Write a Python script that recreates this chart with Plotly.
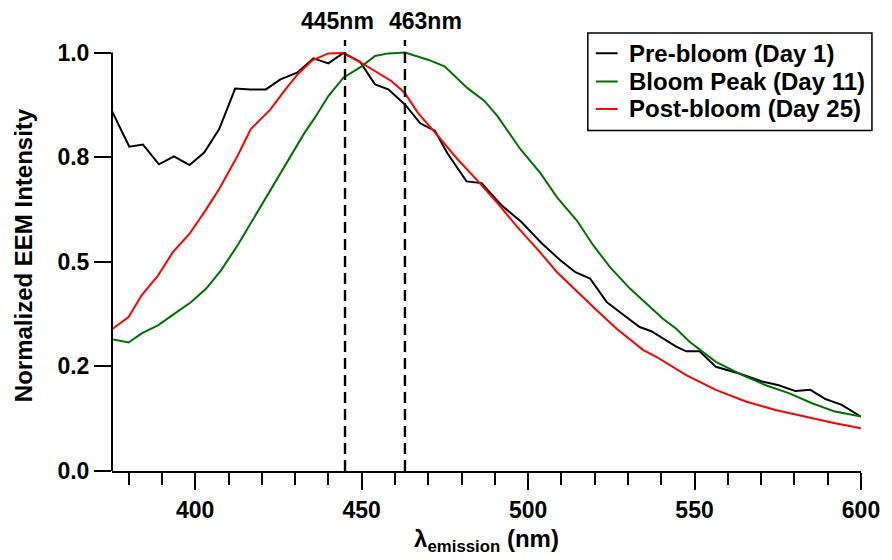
import plotly.graph_objects as go

# ---- data ----
pre_x = [375, 380.2, 384.3, 389.1, 393.6, 398.3, 402.7, 407.2, 412, 416.5, 421.2, 425.6, 430.6, 435.5,
         440, 444.5, 449.5, 454, 458, 463, 467.6, 472, 475.7, 481.5, 486, 492, 498, 504, 509.5, 514.2,
         518.6, 523.6, 528.5, 533.5, 537, 541, 544.5, 547.5, 551.5, 556.4, 563.4, 570.3, 575.3, 580.3,
         584.8, 589.3, 594.2, 600]
pre_y = [0.86, 0.775, 0.780, 0.733, 0.752, 0.731, 0.761, 0.817, 0.914, 0.912, 0.912, 0.936, 0.952, 0.986,
         0.974, 0.999, 0.978, 0.924, 0.912, 0.876, 0.831, 0.813, 0.760, 0.692, 0.688, 0.635, 0.595, 0.545,
         0.505, 0.475, 0.460, 0.404, 0.374, 0.344, 0.334, 0.315, 0.297, 0.286, 0.286, 0.249, 0.233, 0.214,
         0.205, 0.191, 0.194, 0.172, 0.158, 0.130]

peak_x = [375, 380, 383.9, 388.8, 393.8, 398.8, 403.3, 407.7, 412.7, 417.7, 422.7, 427.6, 432.6, 436,
          440, 444.5, 450, 454, 458, 463, 469.9, 474.9, 481.8, 486.8, 490.8, 497.7, 503.7, 508.7, 514.7,
          519.6, 524.6, 530.6, 536.6, 540.5, 544.5, 548.5, 556.4, 564.4, 571.4, 578.3, 585.3, 592.2, 600]
peak_y = [0.315, 0.307, 0.329, 0.348, 0.376, 0.404, 0.436, 0.479, 0.539, 0.606, 0.674, 0.741, 0.805, 0.845,
          0.896, 0.940, 0.967, 0.992, 0.998, 1.0, 0.983, 0.967, 0.915, 0.885, 0.848, 0.769, 0.712, 0.654,
          0.598, 0.539, 0.487, 0.436, 0.392, 0.364, 0.340, 0.309, 0.261, 0.229, 0.205, 0.186, 0.162, 0.142,
          0.130]

post_x = [375, 380, 383.9, 388.8, 393.3, 398.3, 402.7, 407.2, 412.7, 416.7, 422.6, 427.1, 431, 435.3,
          440, 444.5, 450, 455, 458.9, 462.9, 466.9, 472.9, 478.8, 484.8, 490.8, 496.8, 502.7, 508.7,
          514.7, 520.6, 526.6, 534.6, 538.5, 544.5, 547.5, 556.4, 565.4, 574.3, 583.3, 592.2, 600]
post_y = [0.339, 0.368, 0.420, 0.467, 0.523, 0.567, 0.618, 0.674, 0.753, 0.817, 0.864, 0.912, 0.950, 0.982,
          0.998, 0.999, 0.975, 0.952, 0.932, 0.904, 0.856, 0.801, 0.745, 0.694, 0.640, 0.583, 0.531, 0.475,
          0.428, 0.384, 0.340, 0.289, 0.273, 0.245, 0.229, 0.194, 0.166, 0.146, 0.129, 0.114, 0.102]

series_names = ["Pre-bloom (Day 1)", "Bloom Peak (Day 11)", "Post-bloom (Day 25)"]
series_colors = ["#000000", "#007000", "#ff0000"]

peak_wavelengths = [445, 463]
peak_labels = ["445nm", "463nm"]

y_tickvals = [0, 0.25, 0.5, 0.75, 1.0]
y_ticktext = ["0.0", "0.2", "0.5", "0.8", "1.0"]
x_tickvals = [400, 450, 500, 550, 600]

FONT = "Liberation Sans, Arial, sans-serif"

fig = go.Figure()
for xs, ys, name, col in zip([pre_x, peak_x, post_x], [pre_y, peak_y, post_y], series_names, series_colors):
    fig.add_trace(go.Scatter(x=xs, y=ys, mode="lines", name=name,
                             line=dict(color=col, width=2), showlegend=False))

# dashed peak markers
for wl in peak_wavelengths:
    fig.add_shape(type="line", xref="x", yref="paper", x0=wl, x1=wl, y0=0, y1=1,
                  line=dict(color="black", width=2.4, dash="11px,6px"))

label_shifts = [-8, 21]
for wl, lab, sh in zip(peak_wavelengths, peak_labels, label_shifts):
    fig.add_annotation(x=wl, y=1, xref="x", yref="paper", text=lab, showarrow=False,
                       xanchor="center", yanchor="bottom", xshift=sh, yshift=4,
                       font=dict(family=FONT, size=23, color="black", weight="bold"))

# left axis line only up to 1.0
fig.add_shape(type="line", xref="paper", yref="y", x0=0, x1=0, y0=0, y1=1,
              line=dict(color="black", width=2))

# legend box (drawn to match the reference's compact boxed legend)
fig.add_shape(type="rect", xref="paper", yref="paper", x0=0.6353, x1=1.0146, y0=0.7898, y1=1.0162,
              line=dict(color="black", width=1.5), fillcolor="white", layer="above")
row_y = [0.9693, 0.9037, 0.8400]
for name, col, ry in zip(series_names, series_colors, row_y):
    fig.add_shape(type="line", xref="paper", yref="paper", x0=0.6459, x1=0.6751, y0=ry, y1=ry,
                  line=dict(color=col, width=2), layer="above")
    fig.add_annotation(x=0.6880, y=ry, xref="paper", yref="paper", text=name, showarrow=False,
                       xanchor="left", yanchor="middle",
                       font=dict(family=FONT, size=24, color="black", weight="bold"))

fig.update_layout(
    width=892, height=560,
    margin=dict(l=112, r=26, t=40, b=87),
    paper_bgcolor="white", plot_bgcolor="white",
    font=dict(family=FONT, size=23, color="black", weight="bold"),
    showlegend=False,
    xaxis=dict(range=[375, 600], tickvals=x_tickvals, ticks="outside", ticklen=17, tickwidth=2,
               tickcolor="black", showline=True, linecolor="black", linewidth=2,
               showgrid=False, zeroline=False,
               minor=dict(dtick=10, tick0=0, ticks="outside", ticklen=12, tickwidth=2, tickcolor="black"),
               tickfont=dict(family=FONT, size=23, weight="bold"),
               title=dict(text="λ<sub>emission</sub> (nm)", standoff=9,
                          font=dict(family=FONT, size=24, weight="bold"))),
    yaxis=dict(range=[0, 1.03], tickvals=y_tickvals, ticktext=y_ticktext, ticks="outside",
               ticklen=17, tickwidth=2, tickcolor="black", showline=False,
               showgrid=False, zeroline=False,
               tickfont=dict(family=FONT, size=23, weight="bold"),
               title=dict(text="Normalized EEM Intensity", standoff=18,
                          font=dict(family=FONT, size=24, weight="bold"))),
)

fig.write_html("out.html")
